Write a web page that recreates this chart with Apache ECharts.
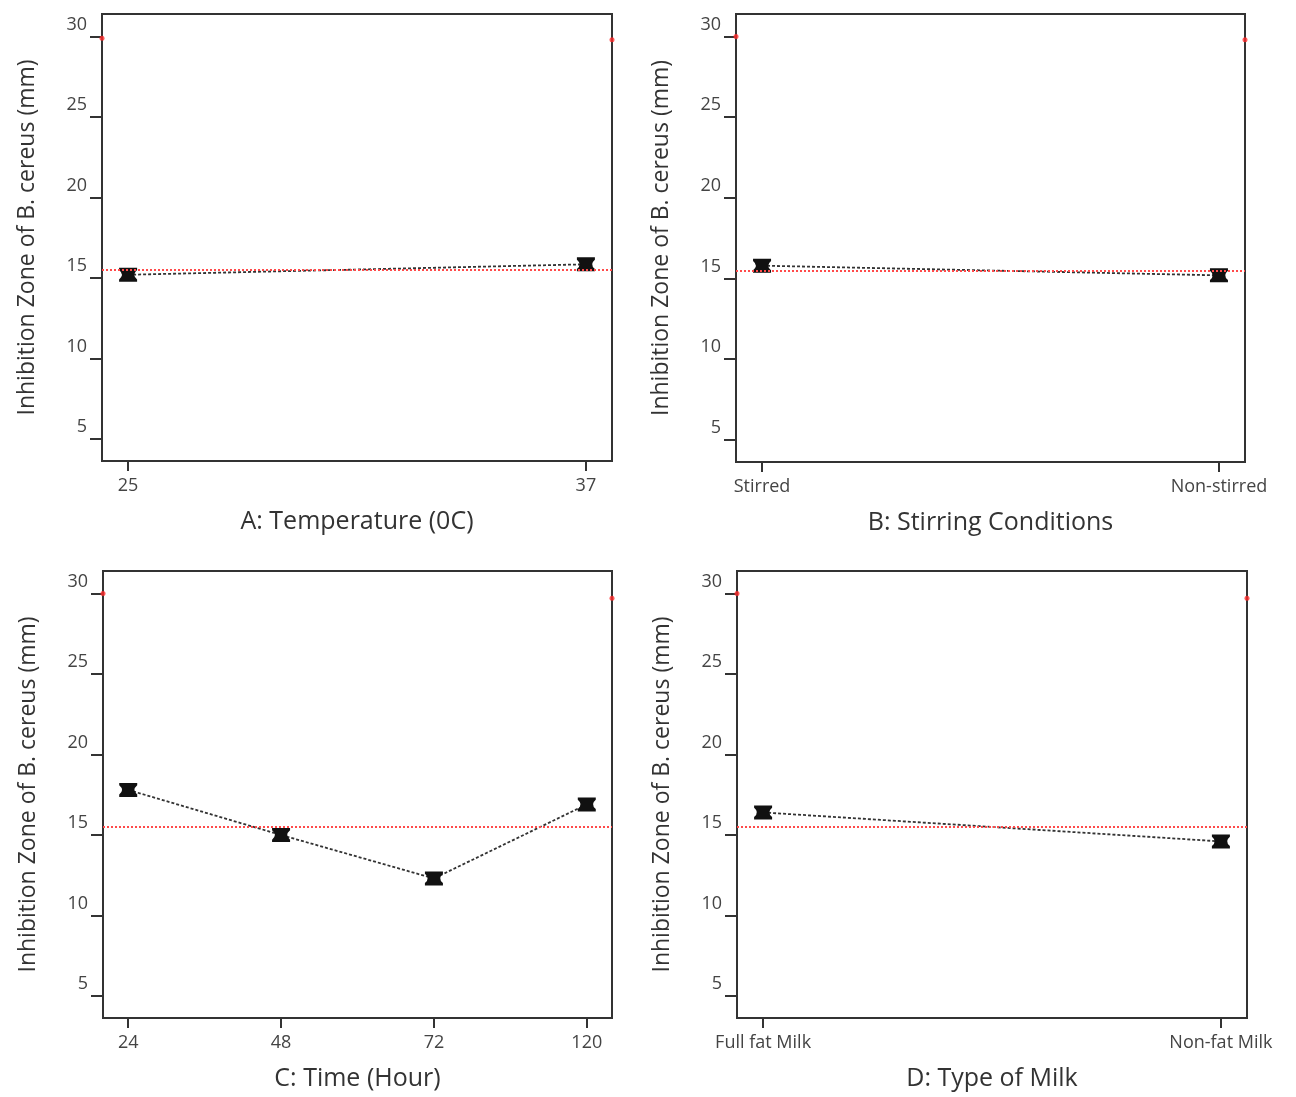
<!DOCTYPE html>
<html style="height: 100%">

<head>
    <meta charset="utf-8">
    <title>Inhibition Zone of B. cereus - main effects</title>
</head>

<body style="height: 100%; margin: 0; background: #fff">
    <div id="container" style="width: 1296px; height: 1097px"></div>
    <script src="https://cdn.jsdelivr.net/npm/echarts@6/dist/echarts.min.js"></script>
    <script type="text/javascript">
        // data
        var tempLabels = ['25', '37'];
        var tempValues = [15.2, 15.85];

        var stirLabels = ['Stirred', 'Non-stirred'];
        var stirValues = [15.8, 15.2];

        var timeLabels = ['24', '48', '72', '120'];
        var timeValues = [17.8, 15.0, 12.3, 16.9];

        var milkLabels = ['Full fat Milk', 'Non-fat Milk'];
        var milkValues = [16.4, 14.6];

        var grandMean = 15.5;
        var yTicks = [5, 10, 15, 20, 25, 30];
        // small red marks on the left / right frame edge near the top
        var edgeMarks = [[29.9, 29.8], [30.0, 29.8], [30.0, 29.7], [30.0, 29.7]];

        var panels = [
            { name: 'A: Temperature (0C)', labels: tempLabels, values: tempValues, grid: { left: 102, top: 14, width: 510, height: 447 } },
            { name: 'B: Stirring Conditions', labels: stirLabels, values: stirValues, grid: { left: 736, top: 14, width: 509, height: 448 } },
            { name: 'C: Time (Hour)', labels: timeLabels, values: timeValues, grid: { left: 103, top: 571, width: 509, height: 447 } },
            { name: 'D: Type of Milk', labels: milkLabels, values: milkValues, grid: { left: 737, top: 571, width: 510, height: 447 } }
        ];

        var font = '"Open Sans", "DejaVu Sans", sans-serif';
        // hourglass shaped error bar
        var errSymbol = 'path://M0,0L16,0L16,2Q11,6 16,10L16,12L0,12L0,10Q5,6 0,2Z';

        var grids = [], xAxes = [], yAxes = [], series = [];

        panels.forEach(function (p, i) {
            var n = p.labels.length;
            var pad = n > 2 ? 0.165 : 0.057;
            var xMin = -pad, xMax = n - 1 + pad;
            var idx = p.labels.map(function (l, k) { return k; });

            grids.push(Object.assign({ show: true, borderColor: '#333', borderWidth: 2, backgroundColor: '#fff' }, p.grid));

            xAxes.push({
                gridIndex: i,
                type: 'value',
                min: xMin,
                max: xMax,
                name: p.name,
                nameLocation: 'middle',
                nameGap: 48,
                nameTextStyle: { fontFamily: font, fontSize: 25, color: '#333' },
                axisLine: { onZero: false, lineStyle: { color: '#333', width: 2 } },
                splitLine: { show: false },
                axisTick: { show: true, length: 10, lineStyle: { color: '#333', width: 2 }, customValues: idx },
                axisLabel: {
                    customValues: idx,
                    margin: 16,
                    fontFamily: font,
                    fontSize: 18,
                    color: '#444',
                    formatter: function (v) { return p.labels[Math.round(v)]; }
                }
            });

            yAxes.push({
                gridIndex: i,
                type: 'value',
                min: 3.63,
                max: 31.4,
                name: 'Inhibition Zone of B. cereus (mm)',
                nameLocation: 'middle',
                nameGap: 63,
                nameTextStyle: { fontFamily: font, fontSize: 23, color: '#333' },
                axisLine: { show: true, onZero: false, lineStyle: { color: '#333', width: 2 } },
                splitLine: { show: false },
                axisTick: { show: true, length: 12, lineStyle: { color: '#333', width: 2 }, customValues: yTicks },
                axisLabel: {
                    customValues: yTicks,
                    margin: 15,
                    fontFamily: font,
                    fontSize: 18,
                    color: '#444',
                    verticalAlign: 'bottom',
                    padding: [0, 0, 3, 0]
                }
            });

            series.push({
                type: 'line',
                xAxisIndex: i,
                yAxisIndex: i,
                data: p.values.map(function (v, k) { return [k, v]; }),
                symbol: errSymbol,
                symbolSize: [18, 14],
                itemStyle: { color: '#111' },
                lineStyle: { color: '#333', width: 1.8, type: [3, 2] },
                markLine: {
                    silent: true,
                    symbol: ['none', 'none'],
                    label: { show: false },
                    lineStyle: { color: '#ff4a4a', width: 2, type: [2, 2] },
                    data: [{ yAxis: grandMean }]
                },
                z: 3
            });

            series.push({
                type: 'scatter',
                xAxisIndex: i,
                yAxisIndex: i,
                clip: false,
                symbol: 'circle',
                symbolSize: 5,
                itemStyle: { color: '#ff2a2a' },
                data: [[xMin, edgeMarks[i][0]], [xMax, edgeMarks[i][1]]],
                z: 4
            });
        });

        var myChart = echarts.init(document.getElementById('container'));
        myChart.setOption({
            animation: false,
            backgroundColor: '#fff',
            grid: grids,
            xAxis: xAxes,
            yAxis: yAxes,
            series: series
        });
    </script>
</body>

</html>
